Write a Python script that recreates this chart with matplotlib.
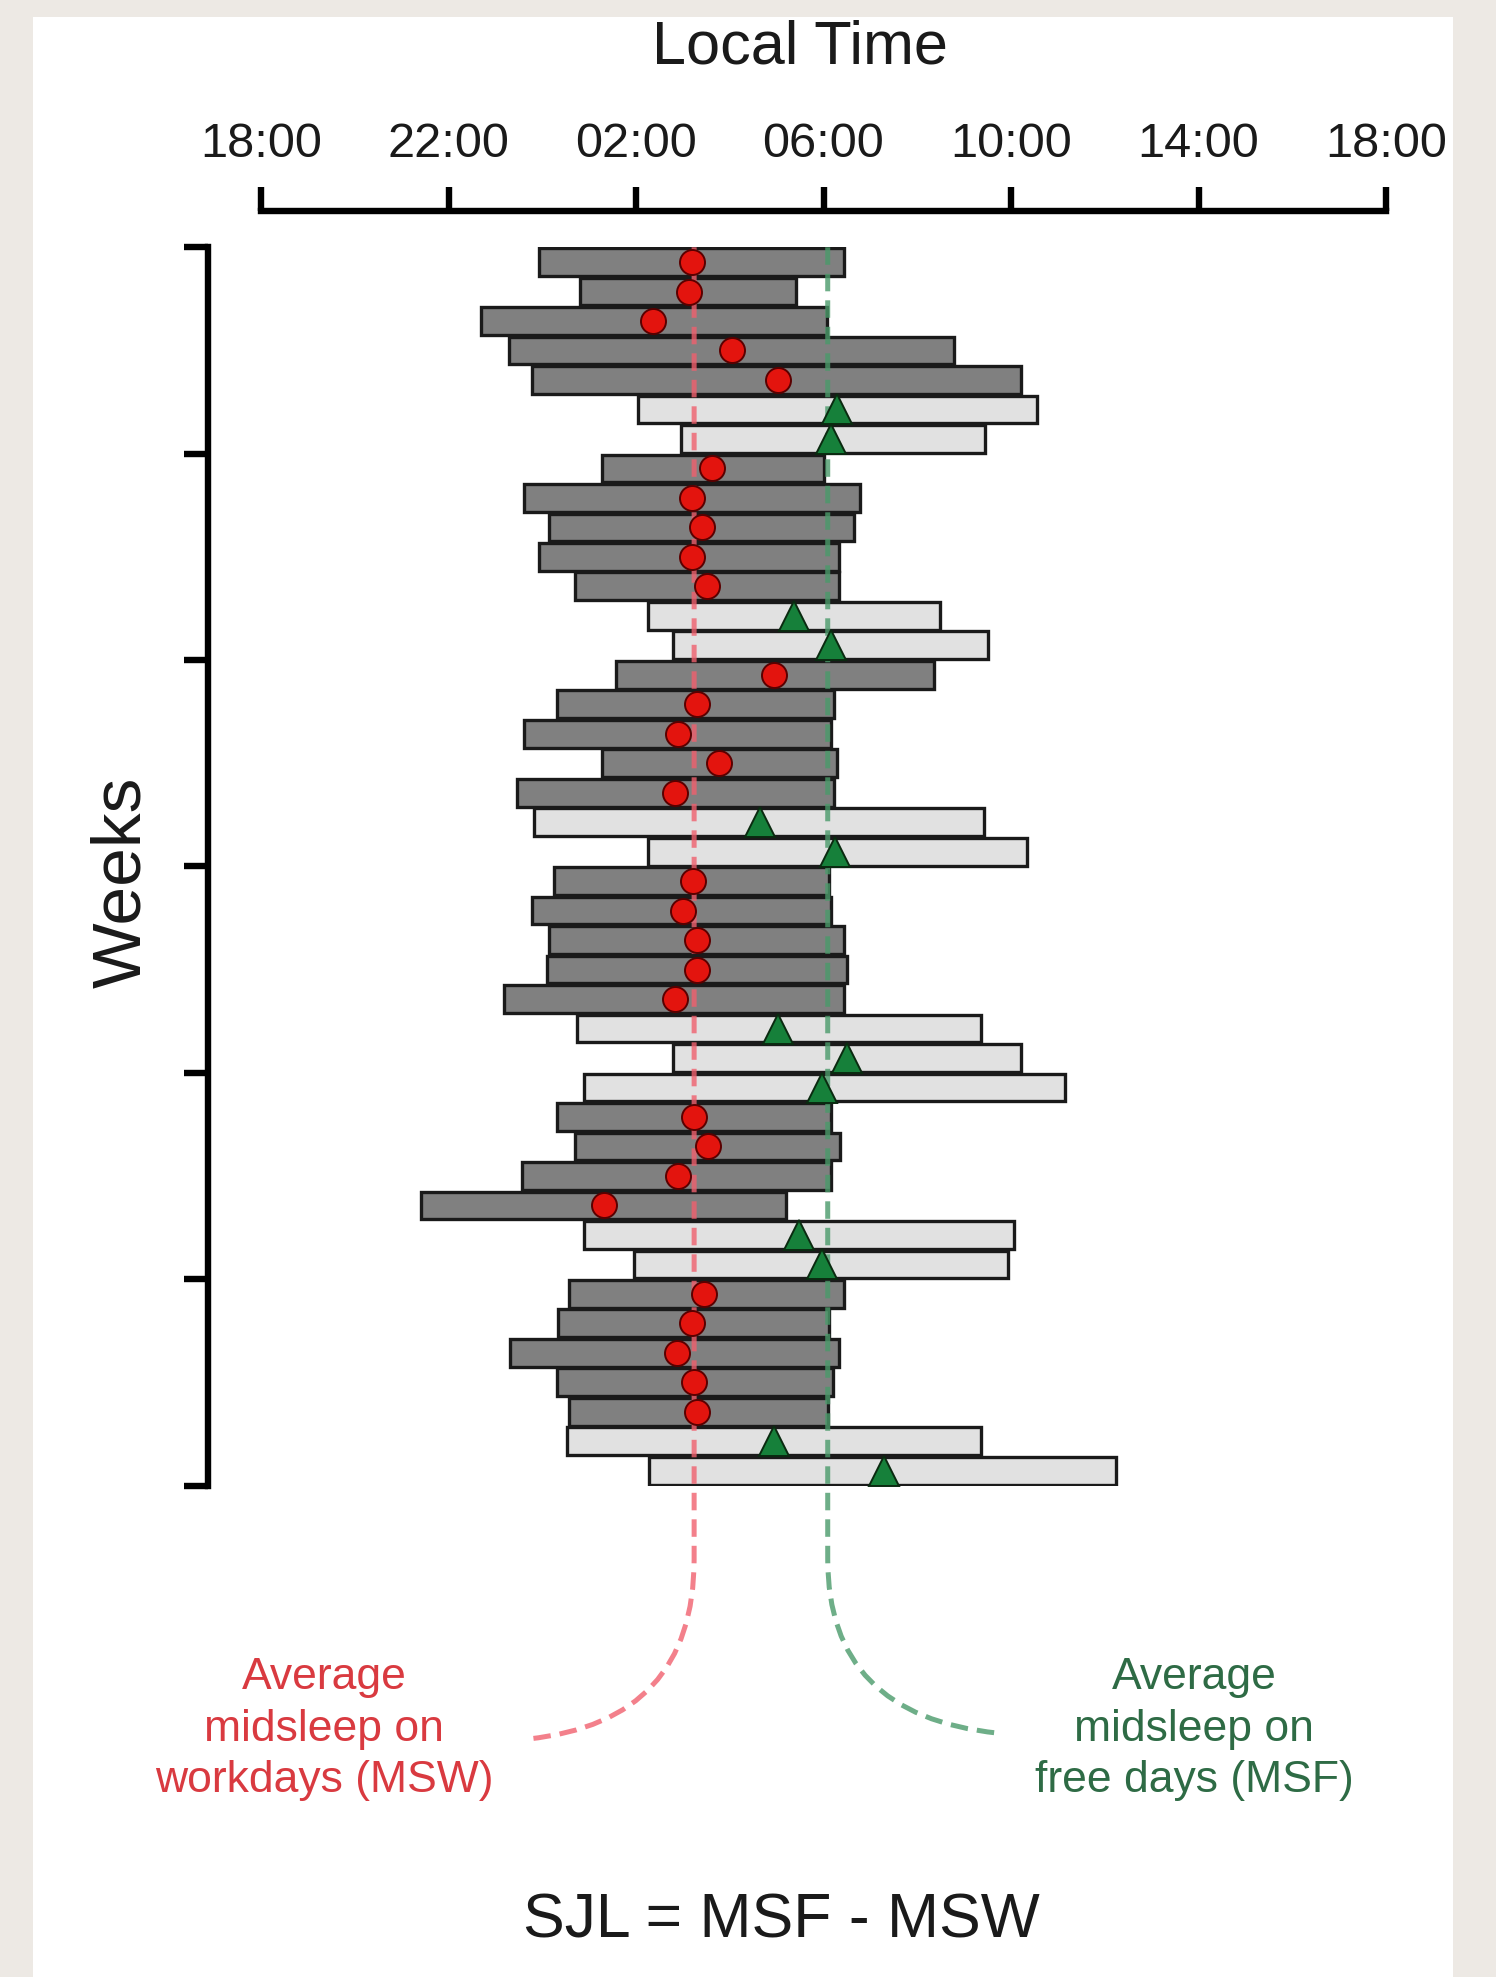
import matplotlib
matplotlib.use('Agg')
import matplotlib.pyplot as plt
from matplotlib.patches import Rectangle, PathPatch
from matplotlib.path import Path

plt.rcParams['font.family'] = ['Liberation Sans', 'DejaVu Sans']

# sleep episodes, hours relative to midnight (negative = evening before)
onset = [-0.06, 0.80, -1.30, -0.71, -0.22, 2.04, 2.95,
         1.28, -0.38, 0.15, -0.06, 0.69, 2.25, 2.79,
         1.58, 0.32, -0.38, 1.28, -0.54, -0.17, 2.25,
         0.26, -0.22, 0.15, 0.10, -0.81, 0.75, 2.79,
         0.88, 0.32, 0.69, -0.44, -2.59, 0.88, 1.95,
         0.58, 0.34, -0.68, 0.32, 0.58, 0.53, 2.28]
offset = [6.44, 5.42, 6.07, 8.78, 10.21, 10.55, 9.45,
          6.01, 6.77, 6.66, 6.34, 6.34, 8.49, 9.51,
          8.35, 6.23, 6.17, 6.28, 6.23, 9.43, 10.34,
          6.12, 6.17, 6.44, 6.50, 6.44, 9.35, 10.21,
          11.15, 6.17, 6.36, 6.17, 5.21, 10.07, 9.94,
          6.44, 6.12, 6.34, 6.20, 6.09, 9.35, 12.25]
day_type = list('WWWWWFF' 'WWWWWFF' 'WWWWWFF' 'WWWWWFF'
                'FWWWWFF' 'WWWWWFF')
midsleep = [3.19, 3.14, 2.36, 4.05, 5.02, 6.28, 6.17,
            3.62, 3.19, 3.41, 3.19, 3.51, 5.37, 6.15,
            4.94, 3.30, 2.90, 3.76, 2.84, 4.64, 6.25,
            3.22, 3.00, 3.30, 3.30, 2.84, 5.02, 6.50,
            5.96, 3.24, 3.54, 2.90, 1.31, 5.48, 5.96,
            3.46, 3.19, 2.87, 3.24, 3.30, 4.94, 7.30]
msw = 3.24
msf = 6.09

tick_hours = [-6, -2, 2, 6, 10, 14, 18]
tick_labels = ['18:00', '22:00', '02:00', '06:00', '10:00', '14:00', '18:00']
week_ticks = [0, 7, 14, 21, 28, 35, 42]

W, H = 1496, 1977
fig = plt.figure(figsize=(W / 100, H / 100), dpi=100)
fig.patch.set_facecolor('#ede9e4')
fig.patches.append(Rectangle((33 / W, 0), (1453 - 33) / W, 1 - 17 / H,
                             transform=fig.transFigure, facecolor='white',
                             edgecolor='none', zorder=-10))

ax = fig.add_axes([261 / W, 1 - 1485.5 / H, 1125 / W, (1485.5 - 247.3) / H])
ax.set_facecolor('none')

rows = [i + 0.5 for i in range(len(onset))]
colors = ['#808080' if d == 'W' else '#e1e1e1' for d in day_type]
widths = [b - a for a, b in zip(onset, offset)]
ax.barh(rows, widths, left=onset, height=0.94, color=colors,
        edgecolor='#1a1a1a', linewidth=2.4, zorder=2)

# average midsleep lines with connector curves to the labels
red_path = Path([(msw, 0), (msw, 44.5), (msw, 50.0), (-0.30, 50.6)],
                [Path.MOVETO, Path.LINETO, Path.CURVE3, Path.CURVE3])
green_path = Path([(msf, 0), (msf, 44.5), (msf, 49.8), (9.72, 50.4)],
                  [Path.MOVETO, Path.LINETO, Path.CURVE3, Path.CURVE3])
ax.add_patch(PathPatch(red_path, fill=False, edgecolor='#f0606e', lw=3.6,
                       linestyle=(0, (3.5, 1.8)), alpha=0.8, clip_on=False, zorder=3))
ax.add_patch(PathPatch(green_path, fill=False, edgecolor='#4a9a6a', lw=3.6,
                       linestyle=(0, (3.5, 1.8)), alpha=0.8, clip_on=False, zorder=3))

wx = [m for m, d in zip(midsleep, day_type) if d == 'W']
wy = [r for r, d in zip(rows, day_type) if d == 'W']
fx = [m for m, d in zip(midsleep, day_type) if d == 'F']
fy = [r for r, d in zip(rows, day_type) if d == 'F']
ax.plot(wx, wy, 'o', ms=18, color='#e3140e', mec='#5a0000', mew=1.4, zorder=4)
ax.plot(fx, fy, '^', ms=21, color='#16803a', mec='#0a2a10', mew=1.4, zorder=4)

ax.set_xlim(-6, 18)
ax.set_ylim(42, 0)
for s in ['right', 'bottom']:
    ax.spines[s].set_visible(False)
ax.spines['top'].set_position(('outward', 26))
ax.spines['top'].set_bounds(-6, 18)
ax.spines['left'].set_position(('outward', 38))
ax.spines['left'].set_bounds(0, 42)
for s in ['top', 'left']:
    ax.spines[s].set_linewidth(4.6)
    ax.spines[s].set_capstyle('projecting')

ax.xaxis.tick_top()
ax.set_xticks(tick_hours)
ax.set_xticklabels(tick_labels)
ax.set_yticks(week_ticks)
ax.set_yticklabels([])
ax.tick_params(axis='both', direction='out', length=17, width=4.6, color='black')
ax.tick_params(axis='x', pad=15, labelsize=35, labelcolor='#1a1a1a')

fig.text(800 / W, 1 - 48 / H, 'Local Time', ha='center', va='center',
         fontsize=44, color='#1a1a1a')
fig.text(122 / W, 1 - 882 / H, 'Weeks', ha='center', va='center',
         rotation=90, fontsize=50, color='#1a1a1a')
fig.text(324 / W, 1 - 1729 / H, 'Average\nmidsleep on\nworkdays (MSW)',
         ha='center', va='center', fontsize=32, color='#d93a40', linespacing=1.34)
fig.text(1194 / W, 1 - 1729 / H, 'Average\nmidsleep on\nfree days (MSF)',
         ha='center', va='center', fontsize=32, color='#2e6b45', linespacing=1.34)
fig.text(781 / W, 1 - 1921 / H, 'SJL = MSF - MSW', ha='center', va='center',
         fontsize=45, color='#1a1a1a')

fig.savefig('out.png', dpi=100, facecolor=fig.get_facecolor())
